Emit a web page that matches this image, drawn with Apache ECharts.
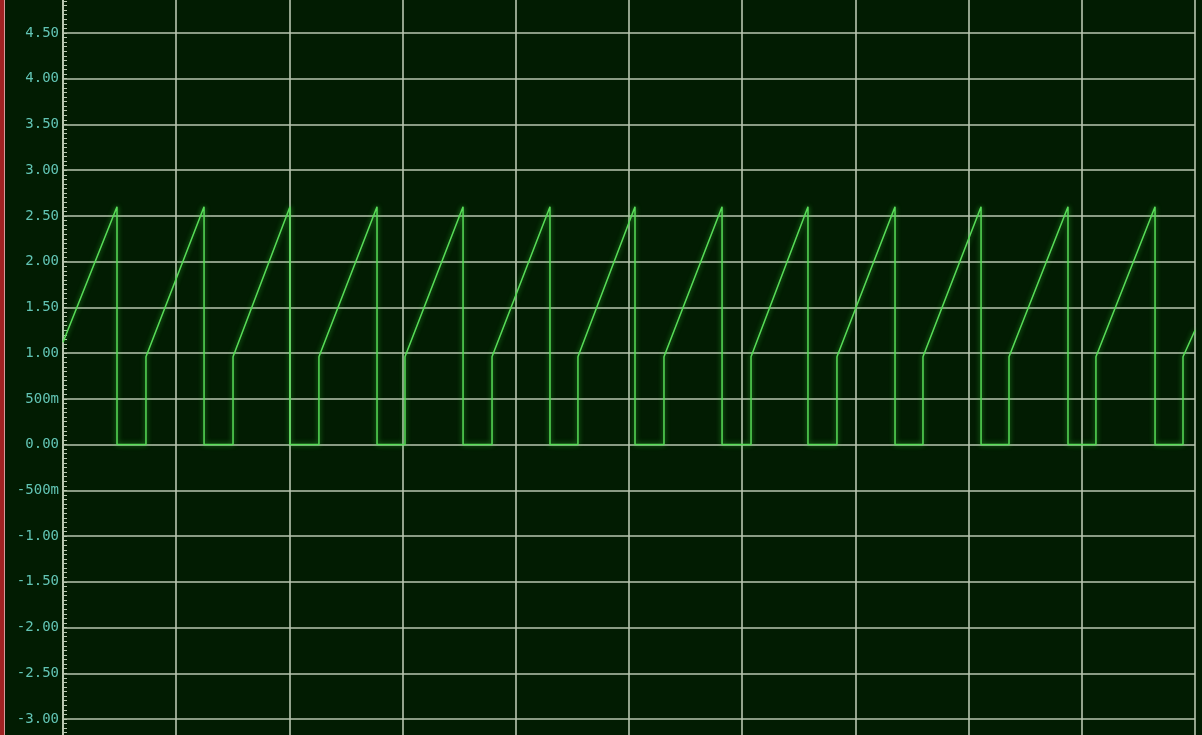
<!DOCTYPE html>
<html>
<head>
<meta charset="utf-8">
<script src="https://cdn.jsdelivr.net/npm/echarts@6/dist/echarts.min.js"></script>
<style>
html,body{margin:0;padding:0;background:#021c02;overflow:hidden;width:1202px;height:735px;}
#chart{position:absolute;left:0;top:0;width:1202px;height:735px;}
#edge{position:absolute;left:0;top:0;width:4px;height:735px;background:#a02222;border-right:1px solid #d89a9a;}
</style>
</head>
<body>
<div id="chart"></div>
<div id="edge"></div>
<script>
// Time in grid divisions (0..10), voltage in volts — vertices of the waveform
const times = [
  0.000,
  0.477, 0.477, 0.733, 0.733,
  1.246, 1.246, 1.502, 1.502,
  2.005, 2.005, 2.261, 2.261,
  2.774, 2.774, 3.021, 3.021,
  3.534, 3.534, 3.790, 3.790,
  4.302, 4.302, 4.549, 4.549,
  5.053, 5.053, 5.309, 5.309,
  5.822, 5.822, 6.078, 6.078,
  6.581, 6.581, 6.837, 6.837,
  7.350, 7.350, 7.597, 7.597,
  8.110, 8.110, 8.357, 8.357,
  8.878, 8.878, 9.125, 9.125,
  9.647, 9.647, 9.894, 9.894,
  10.000
];
const volts = [
  1.12,
  2.60, 0.00, 0.00, 0.96,
  2.60, 0.00, 0.00, 0.96,
  2.60, 0.00, 0.00, 0.96,
  2.60, 0.00, 0.00, 0.96,
  2.60, 0.00, 0.00, 0.96,
  2.60, 0.00, 0.00, 0.96,
  2.60, 0.00, 0.00, 0.96,
  2.60, 0.00, 0.00, 0.96,
  2.60, 0.00, 0.00, 0.96,
  2.60, 0.00, 0.00, 0.96,
  2.60, 0.00, 0.00, 0.96,
  2.60, 0.00, 0.00, 0.96,
  2.60, 0.00, 0.00, 0.96,
  1.25
];
const yTicks = [-3.5, 5.0, 0.5]; // min, max, step

const chart = echarts.init(document.getElementById('chart'), null, {renderer: 'canvas'});
const gridColor = '#b8c6b0';
function fmt(v) {
  const r = Math.round(v * 1000) / 1000;
  if (r !== 0 && Math.abs(r) < 1) return Math.round(r * 1000) + 'm';
  return r.toFixed(2);
}
chart.setOption({
  animation: false,
  backgroundColor: '#021c02',
  grid: {left: 63, right: 7, top: -12.73, height: 777.46, containLabel: false, outerBoundsMode: 'none'},
  xAxis: {
    type: 'value', min: 0, max: 10, interval: 1,
    axisLine: {show: false}, axisTick: {show: false}, axisLabel: {show: false},
    splitLine: {show: true, lineStyle: {color: gridColor, width: 1.6}}
  },
  yAxis: {
    type: 'value', min: yTicks[0], max: yTicks[1], interval: yTicks[2],
    axisLine: {show: true, onZero: false, lineStyle: {color: gridColor, width: 2}},
    axisTick: {show: true, inside: true, length: 4, lineStyle: {color: gridColor}},
    minorTick: {show: true, splitNumber: 10, length: 4, lineStyle: {color: gridColor}},
    axisLabel: {
      margin: 4, color: '#62c4b4', fontFamily: 'DejaVu Sans Mono', fontSize: 14,
      formatter: fmt
    },
    splitLine: {show: true, lineStyle: {color: gridColor, width: 1.6}}
  },
  series: [{
    type: 'line',
    data: times.map((t, i) => [t, volts[i]]),
    showSymbol: false,
    lineStyle: {color: '#58dc58', width: 1.5, shadowBlur: 5, shadowColor: 'rgba(60,220,60,0.7)'},
    silent: true
  }]
});
</script>
</body>
</html>
